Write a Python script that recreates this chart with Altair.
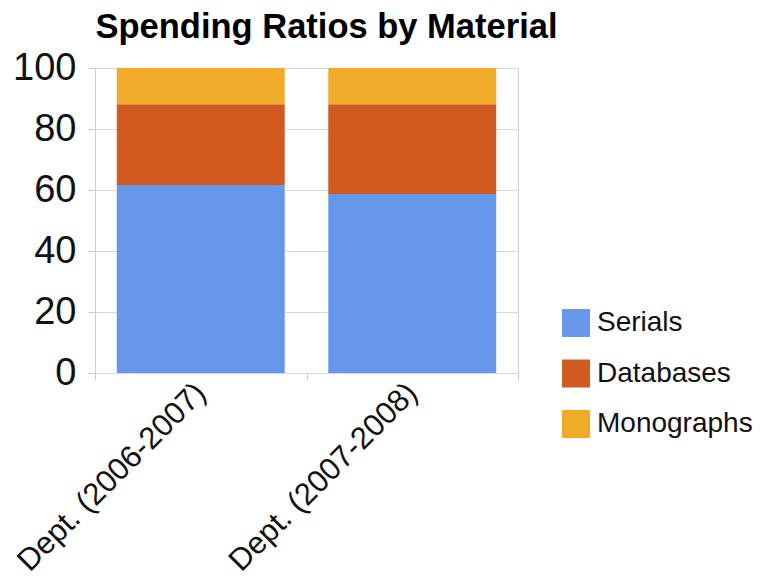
import altair as alt
import pandas as pd

categories = ["Dept. (2006-2007)", "Dept. (2007-2008)"]
series_names = ["Serials", "Databases", "Monographs"]
serials = [61.6, 58.7]
databases = [26.5, 29.4]
monographs = [11.9, 11.9]
colors = ["#6797EA", "#D05A20", "#F0AB28"]
y_ticks = [0, 20, 40, 60, 80, 100]

rows = []
for i, c in enumerate(categories):
    for k, (name, vals) in enumerate(zip(series_names, [serials, databases, monographs])):
        rows.append({"cat": c, "series": name, "value": vals[i], "ord": k})
df = pd.DataFrame(rows)

FONT = "Liberation Sans, Arial, sans-serif"

bars = alt.Chart(df).mark_bar(width=alt.RelativeBandSize(0.794)).encode(
    x=alt.X("cat:N", sort=categories,
            scale=alt.Scale(paddingInner=0, paddingOuter=0),
            axis=alt.Axis(title=None, labelAngle=-45, labelAlign="right",
                          labelBaseline="middle", labelFontSize=31,
                          labelColor="#111", labelFont=FONT, labelPadding=8,
                          labelLimit=0,
                          tickBand="extent", ticks=True, tickSize=7,
                          tickColor="#cccccc", domain=False, grid=False)),
    y=alt.Y("value:Q", stack="zero",
            scale=alt.Scale(domain=[0, 100], nice=False),
            axis=alt.Axis(title=None, values=y_ticks, labelFontSize=38,
                          labelColor="#111", labelFont=FONT, labelPadding=12,
                          tickSize=7, tickColor="#cccccc", gridColor="#d9d9d9",
                          domain=False)),
    color=alt.Color("series:N", sort=series_names,
                    scale=alt.Scale(domain=series_names, range=colors),
                    legend=alt.Legend(title=None, orient="none", legendX=467,
                                      legendY=241, symbolType="square",
                                      symbolSize=784, symbolStrokeWidth=0,
                                      symbolOpacity=1, labelFontSize=28,
                                      labelFont=FONT, labelColor="#111",
                                      labelOffset=7, rowPadding=22.5,
                                      padding=0)),
    order=alt.Order("ord:Q", sort="ascending"),
)

chart = bars.properties(
    width=423,
    height=305,
    title=alt.TitleParams("Spending Ratios by Material", fontSize=34.5,
                          font=FONT, fontWeight="bold", color="#000",
                          anchor="middle", dx=20, offset=4),
    autosize=alt.AutoSizeParams(type="none"),
    padding={"left": 87, "top": 60, "right": 235, "bottom": 209},
).configure_view(stroke="#d0d0d0", strokeWidth=1)

chart.save("out.html", embed_options={"renderer": "svg", "actions": False})
